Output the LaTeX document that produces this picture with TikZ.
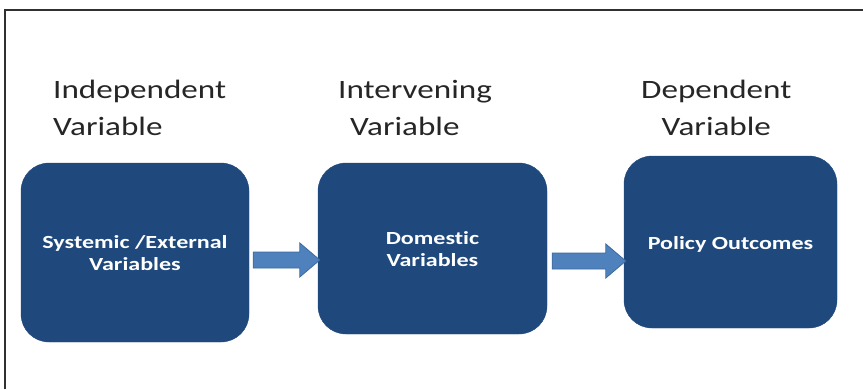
\documentclass[tikz,border=0pt]{standalone}
\usepackage{fontspec}
\setmainfont{Carlito}[Ligatures=NoCommon]
\usetikzlibrary{calc}
\definecolor{boxblue}{HTML}{1F497D}
\definecolor{arrowblue}{HTML}{4F81BD}
\definecolor{arrowedge}{HTML}{3C6A9E}
\definecolor{hdrgray}{HTML}{262626}
\definecolor{framegray}{HTML}{303030}
\newcommand\blockarr[2]{%
  \draw[blockarrow] let \p1=(#1), \p2=(#2) in
    (\x1,\y1+8pt) -- (\x2-20pt,\y1+8pt) -- (\x2-20pt,\y1+17pt) -- (\x2,\y1)
    -- (\x2-20pt,\y1-17pt) -- (\x2-20pt,\y1-8pt) -- (\x1,\y1-8pt) -- cycle;}
\newcommand\boxtext[1]{\raisebox{-2.5pt}[\height][\depth]{\scalebox{1.3}[1]{#1}}}
\begin{document}
\begin{tikzpicture}[x=1pt,y=1pt,
  frame/.style={draw=framegray, line width=2pt},
  varbox/.style={fill=boxblue, draw=boxblue, rounded corners=28pt, inner sep=0pt,
    text=white, font=\fontsize{18.5}{22}\selectfont\bfseries},
  hdr/.style={text=hdrgray, inner sep=0pt, font=\fontsize{26.5}{37}\selectfont, anchor=base west},
  blockarrow/.style={fill=arrowblue, draw=arrowedge, line width=0.8pt, line join=miter}]
\useasboundingbox (0,0) rectangle (863,-389);
\fill[white] (0,0) rectangle (863,-389);
\draw[frame] (5,-389) -- (5,-10) -- (863,-10);

% headers
\node[hdr] (h1) at (53,-98) {\scalebox{1.25}[1]{\vtop{\hbox{Independent}\hbox{Variable}}}};
\node[hdr] (h2) at (338,-98) {\scalebox{1.25}[1]{\vtop{\hbox{Intervening}\hbox{\kern9.6pt Variable}}}};
\node[hdr] (h3) at (641,-98) {\scalebox{1.25}[1]{\vtop{\halign{\hfil#\hfil\cr Dependent\cr Variable\cr}}}};

% boxes
\node[varbox, minimum width=228pt, minimum height=179pt] (b1) at (135,-252.5)
  {\boxtext{\begin{tabular}{@{}c@{}}Systemic /External\\Variables\end{tabular}}};
\node[varbox, minimum width=229pt, minimum height=171pt] (b2) at (432.5,-248.5)
  {\boxtext{\begin{tabular}{@{}c@{}}Domestic\\Variables\end{tabular}}};
\node[varbox, minimum width=213pt, minimum height=172pt] (b3) at (730.5,-242)
  {\boxtext{Policy Outcomes}};

% arrows
\coordinate (ay1) at (0,-260);
\coordinate (ay2) at (0,-261);
\coordinate (a1s) at ($(b1.east |- ay1)+(4,0)$);
\coordinate (a1e) at ($(b2.west |- ay1)+(2,0)$);
\coordinate (a2s) at ($(b2.east |- ay2)+(5,0)$);
\coordinate (a2e) at ($(b3.west |- ay2)+(2,0)$);
\blockarr{a1s}{a1e}
\blockarr{a2s}{a2e}
\end{tikzpicture}
\end{document}
